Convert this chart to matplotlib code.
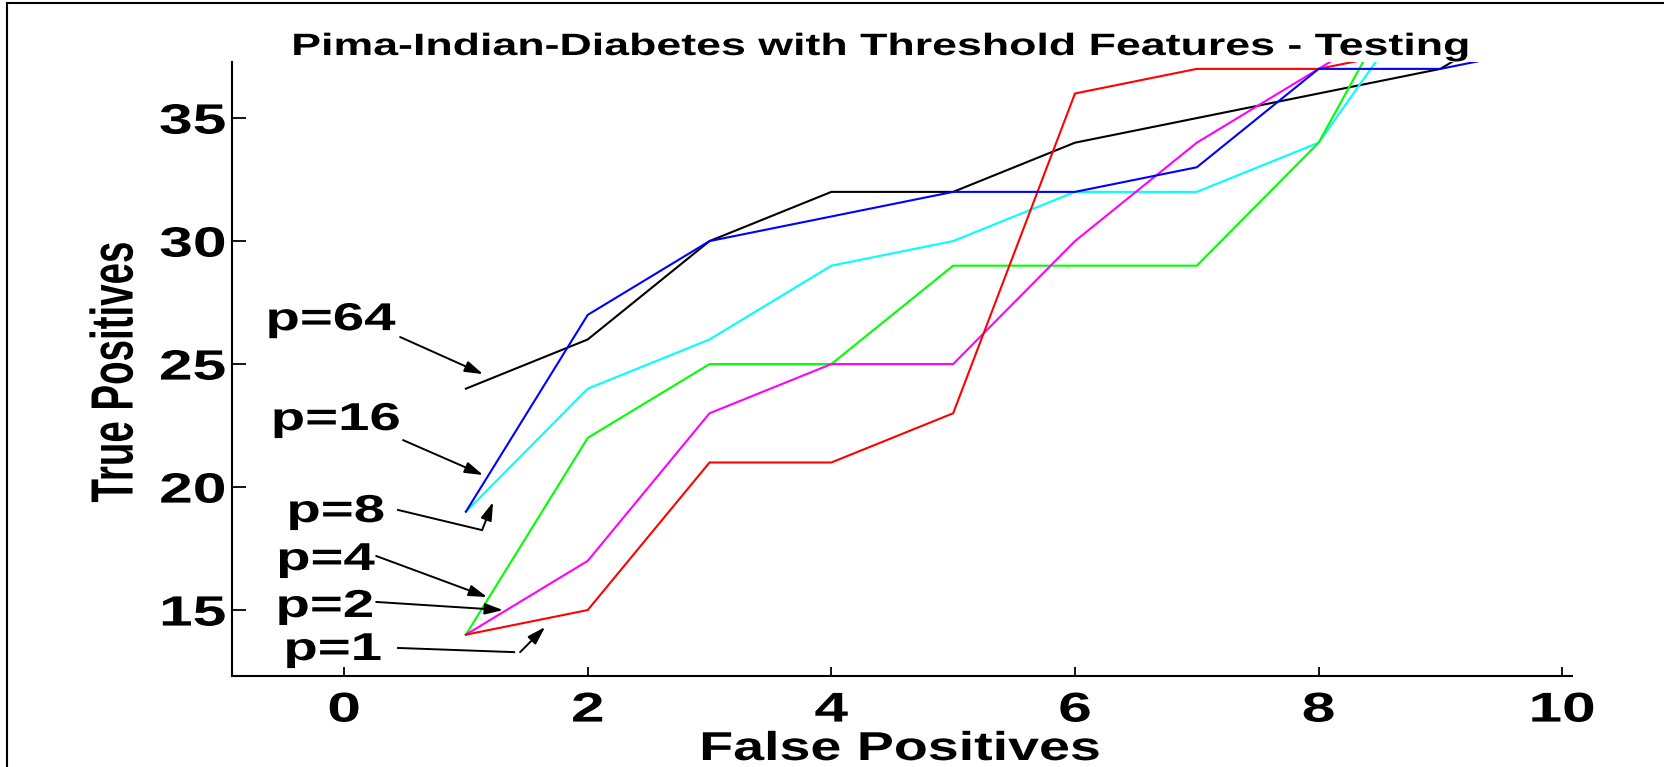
import matplotlib
matplotlib.use("Agg")
import matplotlib.pyplot as plt
from matplotlib.patheffects import AbstractPathEffect
from matplotlib.transforms import Affine2D
from matplotlib.lines import Line2D

# ---- data: ROC points (false positives vs true positives) per feature count p
fp_p1 = [1, 2, 3, 4, 5, 6, 7, 8, 9]
tp_p1 = [14, 15, 21, 21, 23, 36, 37, 37, 38]

fp_p2 = [1, 2, 3, 4, 5, 6, 7, 8, 9]
tp_p2 = [14, 17, 23, 25, 25, 30, 34, 37, 40]

fp_p4 = [1, 2, 3, 4, 5, 6, 7, 8, 9]
tp_p4 = [14, 22, 25, 25, 29, 29, 29, 34, 43]

fp_p8 = [1, 2, 3, 4, 5, 6, 7, 8, 9]
tp_p8 = [19, 24, 26, 29, 30, 32, 32, 34, 41]

fp_p16 = [1, 2, 3, 4, 5, 6, 7, 8, 9, 10]
tp_p16 = [19, 27, 30, 31, 32, 32, 33, 37, 37, 38]

fp_p64 = [1, 2, 3, 4, 5, 6, 7, 8, 9, 10]
tp_p64 = [24, 26, 30, 32, 32, 34, 35, 36, 37, 40]

x_ticks = [0, 2, 4, 6, 8, 10]
y_ticks = [15, 20, 25, 30, 35]

title_text = "Pima-Indian-Diabetes with Threshold Features - Testing"
x_label = "False Positives"
y_label = "True Positives"

FONT = "Liberation Sans"


class HStretch(AbstractPathEffect):
    """Widen rendered text horizontally about its left/centre/right edge."""

    def __init__(self, factor, anchor="center"):
        super().__init__()
        self.factor = factor
        self.anchor = anchor

    def draw_path(self, renderer, gc, tpath, affine, rgbFace=None):
        box = tpath.get_extents(affine)
        if self.anchor == "right":
            x0 = box.x1
        elif self.anchor == "left":
            x0 = box.x0
        else:
            x0 = 0.5 * (box.x0 + box.x1)
        widened = affine + Affine2D().translate(-x0, 0).scale(self.factor, 1).translate(x0, 0)
        renderer.draw_path(gc, tpath, widened, rgbFace)


W, H = 1665, 767
fig = plt.figure(figsize=(W / 100, H / 100), dpi=100)
fig.patch.set_facecolor("white")

ax_l, ax_r, ax_t, ax_b = 232, 1572, 62, 676
ax = fig.add_axes([ax_l / W, 1 - ax_b / H, (ax_r - ax_l) / W, (ax_b - ax_t) / H])

series = [
    (fp_p64, tp_p64, "black"),
    (fp_p8, tp_p8, "#00FFFF"),
    (fp_p4, tp_p4, "#00FF00"),
    (fp_p2, tp_p2, "#FF00FF"),
    (fp_p1, tp_p1, "#FF0000"),
    (fp_p16, tp_p16, "#0000FF"),
]
for fp, tp, col in series:
    ax.plot(fp, tp, color=col, lw=1.5, solid_joinstyle="miter")

ax.set_xlim(-0.92, 10.08)
ax.set_ylim(12.32, 37.28)
ax.set_xticks(x_ticks)
ax.set_yticks(y_ticks)
ax.set_xticklabels([str(v) for v in x_ticks])
ax.set_yticklabels([str(v) for v in y_ticks])

for s in ("top", "right"):
    ax.spines[s].set_visible(False)
for s in ("left", "bottom"):
    ax.spines[s].set_linewidth(1.5)

ax.tick_params(axis="x", direction="in", length=6.5, width=1.3, pad=10.5)
ax.tick_params(axis="y", direction="in", length=10, width=1.3, pad=4.5)

for tick in ax.xaxis.get_major_ticks():
    lab = tick.label1
    lab.set_fontfamily(FONT)
    lab.set_fontweight("bold")
    lab.set_fontsize(30)
    lab.set_path_effects([HStretch(1.45, "center")])
for tick in ax.yaxis.get_major_ticks():
    lab = tick.label1
    lab.set_fontfamily(FONT)
    lab.set_fontweight("bold")
    lab.set_fontsize(30.5)
    lab.set_path_effects([HStretch(1.43, "right")])

# title and axis labels
fig.text(881 / W, 1 - 55 / H, title_text, ha="center", va="baseline",
         fontfamily=FONT, fontweight="bold", fontsize=22.2,
         path_effects=[HStretch(1.45)])
fig.text(900 / W, 1 - 760 / H, x_label, ha="center", va="baseline",
         fontfamily=FONT, fontweight="bold", fontsize=29,
         path_effects=[HStretch(1.38)])
fig.text(115 / W, 1 - 372 / H, y_label, ha="center", va="center", rotation=90,
         fontfamily=FONT, fontweight="bold", fontsize=27.7,
         path_effects=[HStretch(1.55)])

# annotations naming each curve
arrow_kw = dict(arrowstyle="-|>,head_length=0.55,head_width=0.17",
                color="black", lw=1.4, mutation_scale=20,
                shrinkA=0, shrinkB=0)
labels = [
    ("p=64", -0.107, 26.38),
    ("p=16", -0.066, 22.32),
    ("p=8", -0.066, 18.58),
    ("p=4", -0.148, 16.63),
    ("p=2", -0.156, 14.72),
    ("p=1", -0.090, 12.97),
]
for txt, x, y in labels:
    ax.text(x, y, txt, ha="center", va="baseline", fontfamily=FONT,
            fontweight="bold", fontsize=28, path_effects=[HStretch(1.45)],
            clip_on=False)

arrows = [
    ((0.460, 26.10), (1.141, 24.59)),
    ((0.484, 21.91), (1.141, 20.49)),
    ((1.133, 18.25), (1.223, 19.39)),
    ((0.263, 17.20), (1.174, 15.53)),
    ((0.263, 15.33), (1.305, 15.00)),
    ((1.445, 13.29), (1.650, 14.31)),
]
for start, end in arrows:
    ax.annotate("", xy=end, xytext=start, arrowprops=arrow_kw,
                annotation_clip=False)

# plain leader lines
ax.plot([0.443, 1.133], [19.07, 18.25], color="black", lw=1.4, clip_on=False)
ax.plot([0.443, 1.396], [13.46, 13.29], color="black", lw=1.4, clip_on=False)

# frame lines along the top and left of the figure
fig.add_artist(Line2D([7 / W, 1], [1 - 3 / H, 1 - 3 / H], color="black", lw=1.5))
fig.add_artist(Line2D([7 / W, 7 / W], [0, 1 - 3 / H], color="black", lw=1.5))

fig.savefig("out.png", dpi=100, facecolor="white")
